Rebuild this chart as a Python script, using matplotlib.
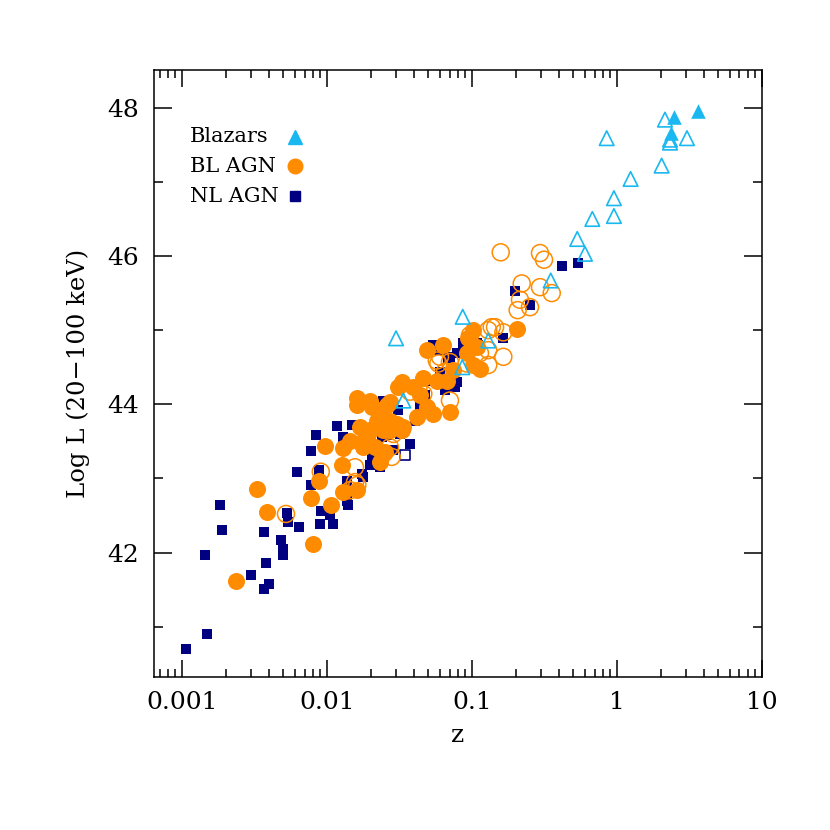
import numpy as np
import matplotlib
matplotlib.use('Agg')
import matplotlib.pyplot as plt

# values: log10(z) and Log L
nl_logz = [-2.972, -2.826, -2.839, -2.738, -2.726, -2.526, -2.432, -2.398, -2.421, -2.432,
           -2.319, -2.301, -2.301, -2.278, -2.267, -2.191, -2.048, -1.961, -2.043, -1.979,
           -2.209, -2.110, -2.076, -2.110, -1.929, -1.826, -1.888, -2.053, -1.864, -1.853,
           -1.864, -1.750, -1.703, -1.634, -1.761, -1.612, -1.543, -1.588, -1.497, -1.243,
           -1.152, -1.106, -0.968, -1.577, -1.612, -1.428, -1.543, -1.623, -1.324, -1.106,
           -1.117, -0.377, -0.267, -0.703, -0.600, -0.784, -0.957, -1.060, -1.163, -1.267,
           -1.510, -1.393, -1.290, -1.221, -1.186, -1.359, -1.738, -1.690]
nl_L = [40.70, 40.90, 41.96, 42.64, 42.30, 41.69, 41.51, 41.58, 41.86, 42.28,
        42.17, 42.05, 41.97, 42.53, 42.41, 42.35, 42.38, 42.38, 42.56, 42.50,
        43.09, 42.91, 43.58, 43.37, 43.70, 43.72, 43.56, 43.11, 42.70, 42.64,
        42.97, 43.02, 43.18, 43.15, 43.06, 43.83, 43.72, 43.58, 43.60, 44.73,
        44.64, 44.69, 44.82, 44.03, 44.05, 43.47, 43.38, 43.56, 44.12, 44.30,
        44.23, 45.87, 45.90, 45.53, 45.34, 44.89, 44.80, 44.82, 44.62, 44.80,
        43.92, 43.78, 44.32, 44.43, 44.19, 43.99, 43.51, 43.31]
nl_open_logz = [-1.462]
nl_open_L = [43.31]

bl_logz = [-2.630, -2.481, -2.416, -2.094, -2.110, -2.053, -2.014, -1.974, -1.888, -1.899,
           -1.888, -1.795, -1.750, -1.703, -1.612, -1.669, -1.600, -1.634, -1.715, -1.692,
           -1.588, -1.795, -1.566, -1.474, -1.669, -1.312, -1.198, -0.991, -1.026, -0.968,
           -1.037, -0.945, -0.991, -1.152, -1.174, -1.243, -1.336, -1.405, -1.485, -1.508,
           -1.795, -1.703, -1.634, -1.566, -1.359, -1.312, -1.267, -1.381, -1.519, -1.485,
           -1.772, -1.726, -1.657, -1.566, -1.841, -1.750, -0.692, -1.129]
bl_L = [41.62, 42.86, 42.55, 42.12, 42.73, 42.96, 43.44, 42.64, 43.41, 43.18,
        42.81, 42.85, 43.51, 43.65, 43.65, 43.42, 43.36, 43.22, 43.60, 43.96,
        43.99, 43.99, 43.65, 43.69, 43.69, 44.73, 44.80, 45.00, 44.89, 44.77,
        44.69, 44.48, 44.53, 43.90, 44.32, 44.32, 44.35, 44.23, 44.30, 44.23,
        44.08, 44.05, 43.92, 44.03, 44.12, 43.96, 43.87, 43.83, 43.74, 43.65,
        43.69, 43.58, 43.78, 43.78, 43.51, 43.42, 45.01, 44.46]

bl_open_logz = [-2.283, -2.043, -1.807, -1.791, -1.612, -1.841, -1.554, -1.543, -1.232, -1.152,
                -1.186, -1.152, -1.370, -1.428, -1.566, -1.014, -0.802, -0.531, -0.503, -0.657,
                -0.531, -0.450, -0.669, -0.600, -0.685, -0.864, -0.841, -0.888, -0.784, -0.784,
                -0.888, -0.888, -0.945, -1.037, -1.221, -1.807, -1.336, -1.243]
bl_open_L = [42.52, 43.09, 43.15, 42.91, 43.33, 42.84, 43.29, 43.60, 44.55, 44.57,
             44.44, 44.05, 44.21, 44.17, 43.42, 44.93, 46.05, 46.04, 45.95, 45.63,
             45.58, 45.50, 45.41, 45.31, 45.27, 45.04, 45.04, 45.00, 44.97, 44.64,
             44.73, 44.53, 44.69, 44.55, 44.64, 42.95, 44.14, 44.59]

blz_open_logz = [0.331, -0.071, 0.366, 0.366, 0.483, 0.308, 0.094, -0.021, -0.021, -0.170,
                 -0.274, -0.221, -0.457, -1.064, -0.888, -1.067, -1.524, -1.474]
blz_open_L = [47.84, 47.59, 47.57, 47.53, 47.59, 47.22, 47.04, 46.78, 46.54, 46.50,
              46.23, 46.03, 45.67, 45.18, 44.86, 44.50, 44.89, 44.05]
blz_logz = [0.395, 0.559, 0.372]
blz_L = [47.88, 47.96, 47.66]

legend_labels = ['Blazars', 'BL AGN', 'NL AGN']

c_blz = '#1ab8f0'
c_bl = '#ff8c00'
c_nl = '#000080'

plt.rcParams['font.family'] = ['DejaVu Serif']

fig = plt.figure(figsize=(8.3, 8.3), dpi=100)
ax = fig.add_axes([0.1855, 0.1843, 0.7325, 0.7314])

ax.scatter(10**np.array(nl_logz), nl_L, marker='s', s=62, color=c_nl, linewidths=0)
ax.scatter(10**np.array(nl_open_logz), nl_open_L, marker='s', s=62, facecolors='white',
           edgecolors=c_nl, linewidths=1.2)
ax.scatter(10**np.array(bl_logz), bl_L, marker='o', s=150, color=c_bl, linewidths=0)
ax.scatter(10**np.array(bl_open_logz), bl_open_L, marker='o', s=150, facecolors='none',
           edgecolors=c_bl, linewidths=1.1)
ax.scatter(10**np.array(blz_open_logz), blz_open_L, marker='^', s=110, facecolors='none',
           edgecolors=c_blz, linewidths=1.2)
ax.scatter(10**np.array(blz_logz), blz_L, marker='^', s=110, color=c_blz, linewidths=0)

ax.set_xscale('log')
ax.set_xlim(6.4e-4, 10)
ax.set_ylim(40.32, 48.51)
ax.set_xticks([0.001, 0.01, 0.1, 1, 10])
ax.set_xticklabels(['0.001', '0.01', '0.1', '1', '10'])
ax.set_yticks([42, 44, 46, 48])
ax.set_yticks([41, 43, 45, 47], minor=True)

ax.tick_params(which='both', direction='in', top=True, right=True, labelsize=18, width=1.1)
ax.tick_params(axis='x', which='major', length=12.5, pad=10)
ax.tick_params(axis='x', which='minor', length=5.5)
ax.tick_params(axis='y', which='major', length=13, pad=11)
ax.tick_params(axis='y', which='minor', length=6.5)
for sp in ax.spines.values():
    sp.set_linewidth(1.1)

ax.set_xlabel('z', fontsize=18, labelpad=7)
ax.set_ylabel('Log L (20\u2212100 keV)', fontsize=17.5, labelpad=12)

# key, text left-aligned with the symbol after it
key_y = [0.890, 0.841, 0.792]
key_m = [('^', 9.5, c_blz), ('o', 10.5, c_bl), ('s', 7.7, c_nl)]
for lab, yy, (mk, ms, col) in zip(legend_labels, key_y, key_m):
    ax.text(0.059, yy, lab, transform=ax.transAxes, fontsize=15, ha='left', va='center')
    ax.plot([0.232], [yy], transform=ax.transAxes, ls='none', marker=mk, ms=ms,
            color=col, clip_on=False)

fig.savefig('out.png', dpi=100)
